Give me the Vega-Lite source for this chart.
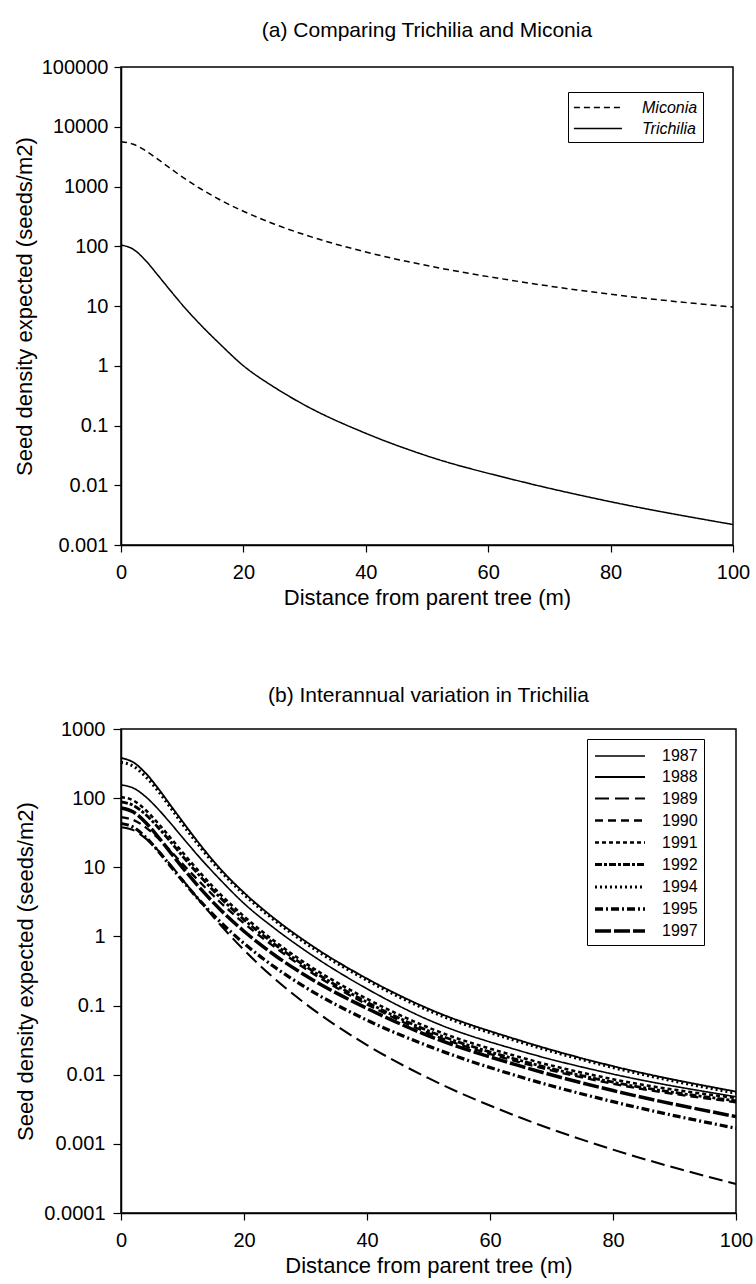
{
  "$schema": "https://vega.github.io/schema/vega-lite/v6.json",
  "padding": {"left": 12, "top": 19, "right": 0, "bottom": 2},
  "background": "white",
  "config": {
    "font": "Liberation Sans",
    "view": {"stroke": "black", "strokeWidth": 1.5},
    "axis": {
      "grid": false,
      "domainColor": "black",
      "domainWidth": 1.5,
      "tickColor": "black",
      "tickWidth": 1.2,
      "labelColor": "black",
      "titleColor": "black",
      "labelFontSize": 20,
      "titleFontSize": 22,
      "titleFontWeight": "normal",
      "labelFont": "Liberation Sans",
      "titleFont": "Liberation Sans"
    },
    "title": {"fontSize": 21, "fontWeight": "normal", "color": "black", "font": "Liberation Sans", "anchor": "middle"},
    "legend": {
      "title": null,
      "strokeColor": "black",
      "fillColor": "white",
      "symbolType": "M-1,0H4",
      "symbolStrokeColor": "black",
      "labelColor": "black",
      "labelFont": "Liberation Sans",
      "orient": "none"
    }
  },
  "resolve": {
    "scale": {"x": "independent", "y": "independent", "strokeDash": "independent", "strokeWidth": "independent"},
    "legend": {"strokeDash": "independent", "strokeWidth": "independent"}
  },
  "datasets": {
    "a": [
      {"species": "Miconia", "d": 0, "v": 5620},
      {"species": "Miconia", "d": 2, "v": 5100},
      {"species": "Miconia", "d": 4, "v": 3980},
      {"species": "Miconia", "d": 6, "v": 2870},
      {"species": "Miconia", "d": 8, "v": 2030},
      {"species": "Miconia", "d": 10, "v": 1450},
      {"species": "Miconia", "d": 13, "v": 917},
      {"species": "Miconia", "d": 16, "v": 612},
      {"species": "Miconia", "d": 20, "v": 385},
      {"species": "Miconia", "d": 25, "v": 236},
      {"species": "Miconia", "d": 30, "v": 156},
      {"species": "Miconia", "d": 40, "v": 80},
      {"species": "Miconia", "d": 50, "v": 47.6},
      {"species": "Miconia", "d": 65, "v": 25.7},
      {"species": "Miconia", "d": 80, "v": 15.7},
      {"species": "Miconia", "d": 100, "v": 9.6},
      {"species": "Trichilia", "d": 0, "v": 105},
      {"species": "Trichilia", "d": 2, "v": 89},
      {"species": "Trichilia", "d": 4, "v": 58},
      {"species": "Trichilia", "d": 6, "v": 33},
      {"species": "Trichilia", "d": 8, "v": 18.5},
      {"species": "Trichilia", "d": 10, "v": 10.5},
      {"species": "Trichilia", "d": 13, "v": 4.85},
      {"species": "Trichilia", "d": 16, "v": 2.4},
      {"species": "Trichilia", "d": 20, "v": 1.0},
      {"species": "Trichilia", "d": 25, "v": 0.44},
      {"species": "Trichilia", "d": 30, "v": 0.22},
      {"species": "Trichilia", "d": 40, "v": 0.074},
      {"species": "Trichilia", "d": 50, "v": 0.031},
      {"species": "Trichilia", "d": 65, "v": 0.0118},
      {"species": "Trichilia", "d": 80, "v": 0.0053},
      {"species": "Trichilia", "d": 100, "v": 0.0022}
    ],
    "b": [
      {"year": "1987", "d": 0, "v": 155}, {"year": "1987", "d": 2, "v": 140}, {"year": "1987", "d": 4, "v": 105}, {"year": "1987", "d": 6, "v": 70}, {"year": "1987", "d": 8, "v": 44}, {"year": "1987", "d": 10, "v": 27}, {"year": "1987", "d": 13, "v": 13.2}, {"year": "1987", "d": 16, "v": 6.8}, {"year": "1987", "d": 20, "v": 3.0}, {"year": "1987", "d": 25, "v": 1.3}, {"year": "1987", "d": 30, "v": 0.62}, {"year": "1987", "d": 40, "v": 0.175}, {"year": "1987", "d": 50, "v": 0.062}, {"year": "1987", "d": 65, "v": 0.022}, {"year": "1987", "d": 80, "v": 0.0102}, {"year": "1987", "d": 100, "v": 0.0048},
      {"year": "1988", "d": 0, "v": 380}, {"year": "1988", "d": 2, "v": 330}, {"year": "1988", "d": 4, "v": 230}, {"year": "1988", "d": 6, "v": 140}, {"year": "1988", "d": 8, "v": 80}, {"year": "1988", "d": 10, "v": 46}, {"year": "1988", "d": 13, "v": 20.5}, {"year": "1988", "d": 16, "v": 9.8}, {"year": "1988", "d": 20, "v": 4.3}, {"year": "1988", "d": 25, "v": 1.8}, {"year": "1988", "d": 30, "v": 0.85}, {"year": "1988", "d": 40, "v": 0.245}, {"year": "1988", "d": 50, "v": 0.09}, {"year": "1988", "d": 65, "v": 0.031}, {"year": "1988", "d": 80, "v": 0.0133}, {"year": "1988", "d": 100, "v": 0.0057},
      {"year": "1989", "d": 0, "v": 38}, {"year": "1989", "d": 2, "v": 34.5}, {"year": "1989", "d": 4, "v": 26.2}, {"year": "1989", "d": 6, "v": 17.6}, {"year": "1989", "d": 8, "v": 10.99}, {"year": "1989", "d": 10, "v": 6.64}, {"year": "1989", "d": 13, "v": 3.12}, {"year": "1989", "d": 16, "v": 1.523}, {"year": "1989", "d": 20, "v": 0.635}, {"year": "1989", "d": 25, "v": 0.2437}, {"year": "1989", "d": 30, "v": 0.1061}, {"year": "1989", "d": 40, "v": 0.0268}, {"year": "1989", "d": 50, "v": 0.00891}, {"year": "1989", "d": 65, "v": 0.00238}, {"year": "1989", "d": 80, "v": 0.000825}, {"year": "1989", "d": 100, "v": 0.000263},
      {"year": "1990", "d": 0, "v": 53}, {"year": "1990", "d": 2, "v": 48.4}, {"year": "1990", "d": 4, "v": 37.8}, {"year": "1990", "d": 6, "v": 26.5}, {"year": "1990", "d": 8, "v": 17.5}, {"year": "1990", "d": 10, "v": 11.2}, {"year": "1990", "d": 13, "v": 5.9}, {"year": "1990", "d": 16, "v": 3.2}, {"year": "1990", "d": 20, "v": 1.55}, {"year": "1990", "d": 25, "v": 0.7}, {"year": "1990", "d": 30, "v": 0.34}, {"year": "1990", "d": 40, "v": 0.104}, {"year": "1990", "d": 50, "v": 0.04}, {"year": "1990", "d": 65, "v": 0.015}, {"year": "1990", "d": 80, "v": 0.0074}, {"year": "1990", "d": 100, "v": 0.004},
      {"year": "1991", "d": 0, "v": 104}, {"year": "1991", "d": 2, "v": 92.5}, {"year": "1991", "d": 4, "v": 67.5}, {"year": "1991", "d": 6, "v": 43.7}, {"year": "1991", "d": 8, "v": 27.0}, {"year": "1991", "d": 10, "v": 16.5}, {"year": "1991", "d": 13, "v": 8.1}, {"year": "1991", "d": 16, "v": 4.2}, {"year": "1991", "d": 20, "v": 1.95}, {"year": "1991", "d": 25, "v": 0.85}, {"year": "1991", "d": 30, "v": 0.41}, {"year": "1991", "d": 40, "v": 0.125}, {"year": "1991", "d": 50, "v": 0.048}, {"year": "1991", "d": 65, "v": 0.0178}, {"year": "1991", "d": 80, "v": 0.0086}, {"year": "1991", "d": 100, "v": 0.0046},
      {"year": "1992", "d": 0, "v": 88}, {"year": "1992", "d": 2, "v": 78.6}, {"year": "1992", "d": 4, "v": 58.0}, {"year": "1992", "d": 6, "v": 38.0}, {"year": "1992", "d": 8, "v": 23.7}, {"year": "1992", "d": 10, "v": 14.5}, {"year": "1992", "d": 13, "v": 7.2}, {"year": "1992", "d": 16, "v": 3.75}, {"year": "1992", "d": 20, "v": 1.75}, {"year": "1992", "d": 25, "v": 0.77}, {"year": "1992", "d": 30, "v": 0.37}, {"year": "1992", "d": 40, "v": 0.112}, {"year": "1992", "d": 50, "v": 0.043}, {"year": "1992", "d": 65, "v": 0.016}, {"year": "1992", "d": 80, "v": 0.0078}, {"year": "1992", "d": 100, "v": 0.0042},
      {"year": "1994", "d": 0, "v": 330}, {"year": "1994", "d": 2, "v": 290}, {"year": "1994", "d": 4, "v": 205}, {"year": "1994", "d": 6, "v": 128}, {"year": "1994", "d": 8, "v": 74}, {"year": "1994", "d": 10, "v": 42}, {"year": "1994", "d": 13, "v": 19}, {"year": "1994", "d": 16, "v": 9.2}, {"year": "1994", "d": 20, "v": 4.05}, {"year": "1994", "d": 25, "v": 1.7}, {"year": "1994", "d": 30, "v": 0.8}, {"year": "1994", "d": 40, "v": 0.232}, {"year": "1994", "d": 50, "v": 0.085}, {"year": "1994", "d": 65, "v": 0.0295}, {"year": "1994", "d": 80, "v": 0.0127}, {"year": "1994", "d": 100, "v": 0.0054},
      {"year": "1995", "d": 0, "v": 43}, {"year": "1995", "d": 2, "v": 38.0}, {"year": "1995", "d": 4, "v": 27.3}, {"year": "1995", "d": 6, "v": 17.39}, {"year": "1995", "d": 8, "v": 10.56}, {"year": "1995", "d": 10, "v": 6.41}, {"year": "1995", "d": 13, "v": 3.16}, {"year": "1995", "d": 16, "v": 1.672}, {"year": "1995", "d": 20, "v": 0.793}, {"year": "1995", "d": 25, "v": 0.359}, {"year": "1995", "d": 30, "v": 0.1834}, {"year": "1995", "d": 40, "v": 0.0615}, {"year": "1995", "d": 50, "v": 0.0259}, {"year": "1995", "d": 65, "v": 0.00925}, {"year": "1995", "d": 80, "v": 0.00407}, {"year": "1995", "d": 100, "v": 0.00168},
      {"year": "1997", "d": 0, "v": 72}, {"year": "1997", "d": 2, "v": 63.1}, {"year": "1997", "d": 4, "v": 44.5}, {"year": "1997", "d": 6, "v": 27.8}, {"year": "1997", "d": 8, "v": 16.56}, {"year": "1997", "d": 10, "v": 9.91}, {"year": "1997", "d": 13, "v": 4.82}, {"year": "1997", "d": 16, "v": 2.52}, {"year": "1997", "d": 20, "v": 1.189}, {"year": "1997", "d": 25, "v": 0.535}, {"year": "1997", "d": 30, "v": 0.272}, {"year": "1997", "d": 40, "v": 0.091}, {"year": "1997", "d": 50, "v": 0.0365}, {"year": "1997", "d": 65, "v": 0.0133}, {"year": "1997", "d": 80, "v": 0.0059}, {"year": "1997", "d": 100, "v": 0.00248}
    ]
  },
  "columns": 1,
  "align": "none",
  "spacing": 75,
  "concat": [
    {
      "width": 612,
      "height": 478,
      "title": {"text": "(a) Comparing Trichilia and Miconia", "offset": 16},
      "data": {"name": "a"},
      "mark": {"type": "line", "color": "black", "strokeWidth": 1.5, "interpolate": "monotone"},
      "encoding": {
        "x": {
          "field": "d", "type": "quantitative",
          "scale": {"domain": [0, 100], "nice": false},
          "axis": {"values": [0, 20, 40, 60, 80, 100], "title": "Distance from parent tree (m)", "tickSize": 7, "labelPadding": 10, "titlePadding": 5, "labelFlush": false}
        },
        "y": {
          "field": "v", "type": "quantitative",
          "scale": {"type": "log", "domain": [0.001, 100000], "nice": false},
          "axis": {"values": [0.001, 0.01, 0.1, 1, 10, 100, 1000, 10000, 100000], "format": "~g", "title": "Seed density expected (seeds/m2)", "tickSize": 7, "labelPadding": 6, "titlePadding": 5, "labelFlush": false}
        },
        "strokeDash": {
          "field": "species", "type": "nominal",
          "scale": {"domain": ["Miconia", "Trichilia"], "range": [[6, 4], [1, 0]]},
          "legend": {"legendX": 447, "legendY": 25, "symbolSize": 369, "symbolStrokeWidth": 1.5, "labelFontSize": 16, "labelFontStyle": "italic", "padding": 5, "rowPadding": 2, "labelOffset": 48}
        }
      }
    },
    {
      "width": 615,
      "height": 484,
      "title": {"text": "(b) Interannual variation in Trichilia", "offset": 13},
      "data": {"name": "b"},
      "mark": {"type": "line", "color": "black", "interpolate": "monotone"},
      "encoding": {
        "x": {
          "field": "d", "type": "quantitative",
          "scale": {"domain": [0, 100], "nice": false},
          "axis": {"values": [0, 20, 40, 60, 80, 100], "title": "Distance from parent tree (m)", "tickSize": 7, "labelPadding": 10, "titlePadding": 5, "labelFlush": false}
        },
        "y": {
          "field": "v", "type": "quantitative",
          "scale": {"type": "log", "domain": [0.0001, 1000], "nice": false},
          "axis": {"values": [0.0001, 0.001, 0.01, 0.1, 1, 10, 100, 1000], "format": "~g", "title": "Seed density expected (seeds/m2)", "tickSize": 8, "labelPadding": 8, "titlePadding": 6, "labelFlush": false}
        },
        "strokeDash": {
          "field": "year", "type": "nominal",
          "scale": {"domain": ["1987", "1988", "1989", "1990", "1991", "1992", "1994", "1995", "1997"], "range": [[1, 0], [1, 0], [14, 6], [8, 5], [4, 3], [7, 2, 3, 2], [2, 3], [8, 3, 2, 3], [16, 3]]},
          "legend": {"legendX": 466, "legendY": 10, "symbolSize": 400, "labelFontSize": 16, "padding": 6, "rowPadding": 2, "labelOffset": 45}
        },
        "strokeWidth": {
          "field": "year", "type": "nominal",
          "scale": {"domain": ["1987", "1988", "1989", "1990", "1991", "1992", "1994", "1995", "1997"], "range": [1.6, 3.5, 1.5, 1.2, 1.4, 1.4, 1.6, 1.3, 2]},
          "legend": {"legendX": 466, "legendY": 10, "symbolSize": 400, "labelFontSize": 16, "padding": 6, "rowPadding": 2, "labelOffset": 45}
        }
      }
    }
  ]
}
